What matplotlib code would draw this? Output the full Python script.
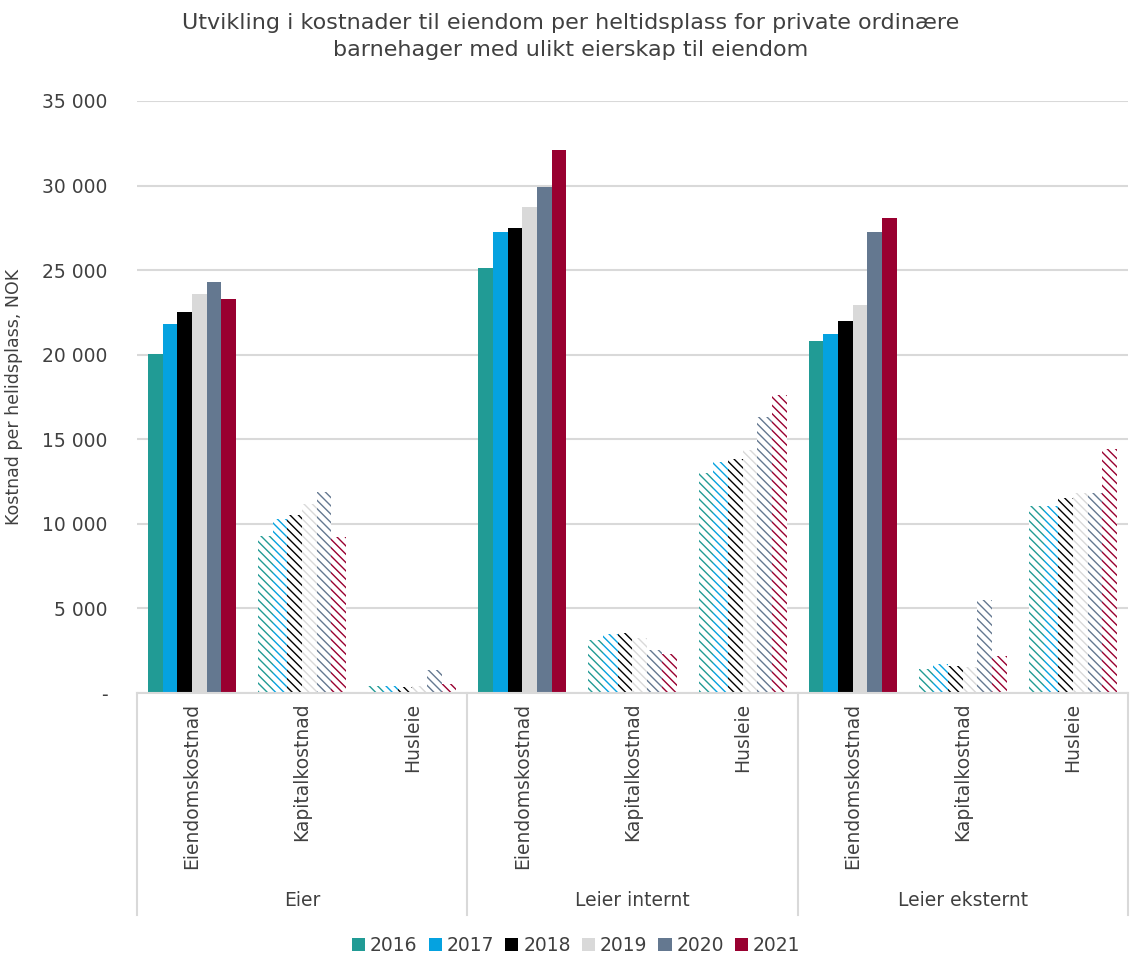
import matplotlib
matplotlib.use("Agg")
import matplotlib.pyplot as plt
import numpy as np
from matplotlib.patches import Patch
from matplotlib.ticker import FuncFormatter

plt.rcParams.update({
    "font.family": "DejaVu Sans",
    "hatch.linewidth": 1.0,
})

# ---- data ---------------------------------------------------------------
groups = ["Eier", "Leier internt", "Leier eksternt"]
cost_types = ["Eiendomskostnad", "Kapitalkostnad", "Husleie"]
years = ["2016", "2017", "2018", "2019", "2020", "2021"]

# values per year, order: Eier(E, K, H), Leier internt(E, K, H), Leier eksternt(E, K, H)
v2016 = [20020, 9310, 390, 25150, 3110, 13030, 20800, 1400, 11050]
v2017 = [21790, 10280, 390, 27280, 3500, 13670, 21200, 1720, 11050]
v2018 = [22520, 10530, 360, 27510, 3540, 13840, 21980, 1590, 11550]
v2019 = [23560, 11160, 400, 28760, 3280, 14380, 22920, 1550, 11850]
v2020 = [24310, 11870, 1380, 29890, 2530, 16310, 27230, 5470, 11800]
v2021 = [23270, 9210, 530, 32130, 2320, 17600, 28070, 2210, 14420]
values = [v2016, v2017, v2018, v2019, v2020, v2021]

colors = ["#219B95", "#05A2E0", "#000000", "#D9D9D9", "#647890", "#990030"]

TEXT = "#404040"
GRID = "#D9D9D9"
FS = 13.5

fig = plt.figure(figsize=(11.3, 9.56), dpi=100)
ax = fig.add_axes([0.1212, 0.2751, 0.877, 0.6193])

n_cat = len(groups) * len(cost_types)
xs = np.arange(n_cat)
width = 0.8 / len(years)
solid = [i % 3 == 0 for i in range(n_cat)]

for j, (yr, vals, col) in enumerate(zip(years, values, colors)):
    pos = xs - 0.4 + width * (j + 0.5)
    for x, v, s in zip(pos, vals, solid):
        if s:
            ax.bar(x, v, width, color=col, linewidth=0, zorder=2)
        else:
            ax.bar(x, v, width, facecolor="white", edgecolor=col,
                   hatch="\\\\\\\\", linewidth=0, zorder=2)

ax.set_xlim(-0.5, n_cat - 0.5)
ax.set_ylim(0, 35000)
ax.set_yticks(np.arange(0, 35001, 5000))
ax.yaxis.set_major_formatter(FuncFormatter(
    lambda v, p: "-" if v == 0 else f"{int(v):,}".replace(",", " ")))
ax.grid(axis="y", color=GRID, linewidth=1.5, zorder=0)
for sp in ["top", "right", "left"]:
    ax.spines[sp].set_visible(False)
ax.spines["bottom"].set_color(GRID)
ax.spines["bottom"].set_linewidth(1.5)
ax.tick_params(axis="y", length=0, pad=21, labelsize=FS, labelcolor=TEXT)
ax.tick_params(axis="x", length=0, pad=7, labelsize=FS, labelcolor=TEXT)
ax.set_xticks(xs)
ax.set_xticklabels(cost_types * len(groups), rotation=90)
ax.set_ylabel("Kostnad per helidsplass, NOK", fontsize=12.5, color=TEXT, labelpad=14)

# group separators and labels below the axis
trans = ax.get_xaxis_transform()
for b in [-0.5, 2.5, 5.5, 8.5]:
    ax.plot([b, b], [0, -0.375], transform=trans, color=GRID,
            linewidth=1.5, clip_on=False)
for i, g in enumerate(groups):
    ax.text(3 * i + 1, -0.35, g, transform=trans, ha="center", va="center",
            fontsize=FS, color=TEXT)

fig.suptitle("Utvikling i kostnader til eiendom per heltidsplass for private ordinære\n"
             "barnehager med ulikt eierskap til eiendom",
             x=0.505, y=0.986, fontsize=16, color=TEXT, linespacing=1.4)

handles = [Patch(facecolor=c, edgecolor="none") for c in colors]
fig.legend(handles, years, loc="center", bbox_to_anchor=(0.51, 0.011),
           ncol=6, frameon=False, fontsize=FS, handlelength=0.7,
           handleheight=0.7, handletextpad=0.25, columnspacing=0.6,
           labelcolor=TEXT)

fig.savefig("out.png", dpi=100)
